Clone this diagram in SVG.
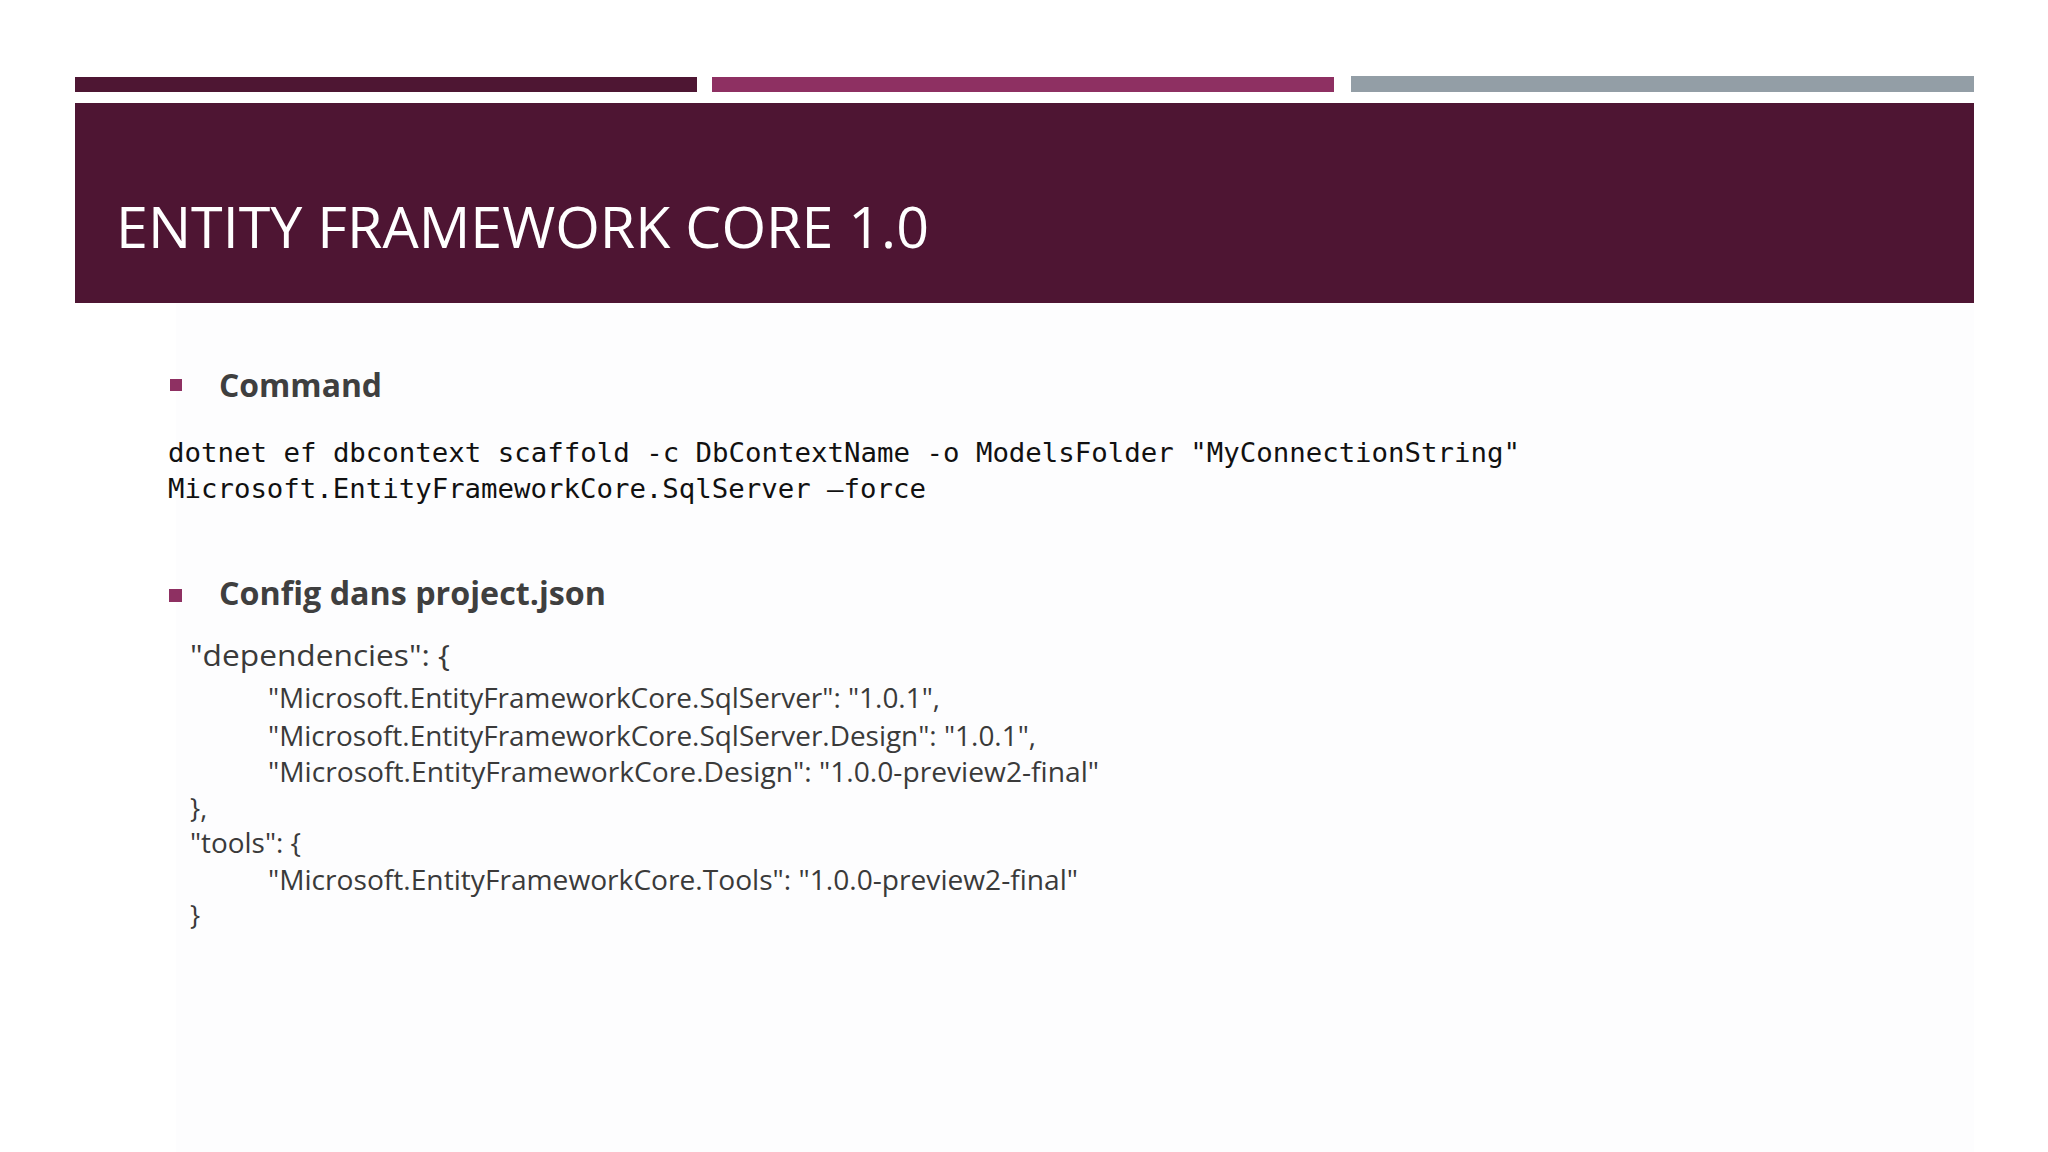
<svg xmlns="http://www.w3.org/2000/svg" width="2048" height="1152" viewBox="0 0 2048 1152">
<style>
.title{font-family:"Open Sans","Liberation Sans",sans-serif;font-weight:400;font-size:57px;fill:#ffffff}
.head{font-family:"Open Sans","Liberation Sans",sans-serif;font-weight:700;font-size:32px;fill:#3f3f3f}
.code{font-family:"DejaVu Sans Mono","Liberation Mono",monospace;font-size:26px;fill:#111111}
.json{font-family:"Open Sans","Liberation Sans",sans-serif;font-weight:400;fill:#3a3a3a}
.big{font-size:30px}
.small{font-size:27px}
.bullet{fill:#8e3062}
</style>
<rect width="2048" height="1152" fill="#ffffff"/>
<rect x="176" y="303" width="1798" height="849" fill="#fdfdfe"/>
<g id="top-bars">
<rect x="75" y="77" width="622" height="15" fill="#4e1633"/>
<rect x="712" y="77" width="622" height="15" fill="#8e3062"/>
<rect x="1351" y="76" width="623" height="16" fill="#939ea6"/>
</g>
<g id="title-box">
<rect x="75" y="103" width="1899" height="200" fill="#4e1533"/>
<text class="title" x="116" y="248" textLength="813" lengthAdjust="spacingAndGlyphs">ENTITY FRAMEWORK CORE 1.0</text>
</g>
<g id="command">
<rect class="bullet" x="170" y="379" width="12" height="12"/>
<text class="head" x="219" y="397" textLength="163" lengthAdjust="spacingAndGlyphs">Command</text>
<text class="code" x="168" y="462" textLength="1352" lengthAdjust="spacingAndGlyphs">dotnet ef dbcontext scaffold -c DbContextName -o ModelsFolder "MyConnectionString"</text>
<text class="code" x="168" y="498" textLength="758" lengthAdjust="spacingAndGlyphs">Microsoft.EntityFrameworkCore.SqlServer –force</text>
</g>
<g id="config">
<rect class="bullet" x="169" y="589" width="13" height="13"/>
<text class="head" x="219" y="605" textLength="387" lengthAdjust="spacingAndGlyphs">Config dans project.json</text>
<text class="json big" x="190" y="666" textLength="260" lengthAdjust="spacingAndGlyphs">"dependencies": {</text>
<text class="json small" x="268" y="708" textLength="672" lengthAdjust="spacingAndGlyphs">"Microsoft.EntityFrameworkCore.SqlServer": "1.0.1",</text>
<text class="json small" x="268" y="746" textLength="768" lengthAdjust="spacingAndGlyphs">"Microsoft.EntityFrameworkCore.SqlServer.Design": "1.0.1",</text>
<text class="json small" x="268" y="782" textLength="831" lengthAdjust="spacingAndGlyphs">"Microsoft.EntityFrameworkCore.Design": "1.0.0-preview2-final"</text>
<text class="json small" x="190" y="818">},</text>
<text class="json small" x="190" y="853" textLength="111" lengthAdjust="spacingAndGlyphs">"tools": {</text>
<text class="json small" x="268" y="890" textLength="810" lengthAdjust="spacingAndGlyphs">"Microsoft.EntityFrameworkCore.Tools": "1.0.0-preview2-final"</text>
<text class="json small" x="190" y="925">}</text>
</g>
</svg>
